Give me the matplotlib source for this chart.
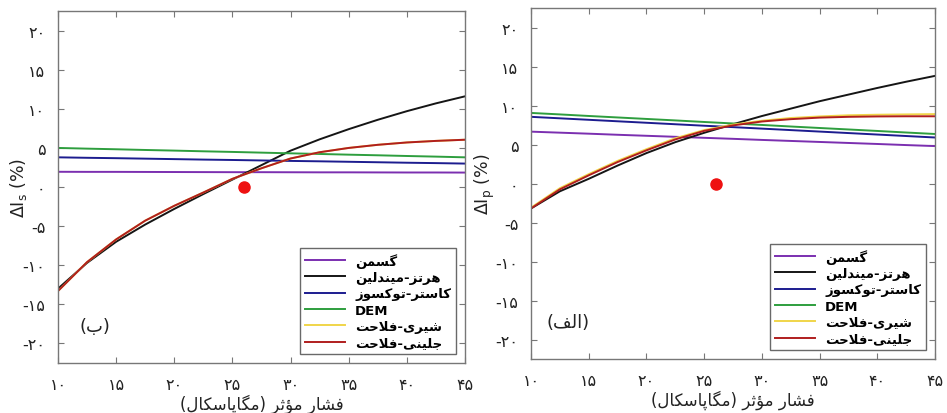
import numpy as np
import matplotlib
matplotlib.use("Agg")
import matplotlib.pyplot as plt

# effective pressure (MPa)
pressure = [10, 12.5, 15, 17.5, 20, 22.5, 25, 27.5, 30, 32.5, 35, 37.5, 40, 42.5, 45]

# panel (b): delta Is (%)
s_gassmann = [1.95, 1.94, 1.94, 1.93, 1.92, 1.91, 1.90, 1.90, 1.89, 1.88, 1.88, 1.87, 1.86, 1.86, 1.85]
s_hertz = [-13.0, -9.7, -7.0, -4.8, -2.8, -0.9, 0.95, 2.8, 4.65, 6.1, 7.4, 8.6, 9.7, 10.7, 11.6]
s_castagna = [3.80, 3.74, 3.69, 3.63, 3.57, 3.51, 3.46, 3.40, 3.34, 3.29, 3.23, 3.17, 3.11, 3.06, 3.00]
s_dem = [5.00, 4.91, 4.83, 4.74, 4.66, 4.57, 4.49, 4.40, 4.31, 4.23, 4.14, 4.06, 3.97, 3.89, 3.80]
s_shiri = [-13.3, -9.6, -6.7, -4.3, -2.4, -0.7, 1.05, 2.4, 3.65, 4.45, 5.0, 5.4, 5.7, 5.9, 6.05]
s_jalilini = [-13.3, -9.6, -6.7, -4.3, -2.4, -0.7, 1.05, 2.4, 3.65, 4.45, 5.0, 5.4, 5.7, 5.9, 6.05]

# panel (alef): delta Ip (%)
p_gassmann = [6.65, 6.52, 6.39, 6.25, 6.12, 5.99, 5.86, 5.73, 5.59, 5.46, 5.33, 5.20, 5.07, 4.93, 4.80]
p_hertz = [-3.2, -1.0, 0.6, 2.3, 3.9, 5.3, 6.5, 7.6, 8.65, 9.6, 10.55, 11.4, 12.25, 13.05, 13.8]
p_castagna = [8.55, 8.36, 8.17, 7.98, 7.79, 7.60, 7.41, 7.23, 7.04, 6.85, 6.66, 6.47, 6.28, 6.09, 5.90]
p_dem = [9.05, 8.86, 8.66, 8.47, 8.28, 8.09, 7.89, 7.70, 7.51, 7.31, 7.12, 6.93, 6.74, 6.54, 6.35]
p_shiri = [-3.1, -0.6, 1.2, 2.9, 4.4, 5.8, 6.85, 7.55, 8.05, 8.4, 8.6, 8.75, 8.82, 8.86, 8.9]
p_jalilini = [-3.2, -0.75, 1.05, 2.75, 4.25, 5.65, 6.75, 7.45, 7.95, 8.25, 8.45, 8.55, 8.6, 8.62, 8.62]

# measured point
point_x = 26
point_y = 0

names = ["گسمن", "هرتز-میندلین", "کاستر-توکسوز", "DEM", "شیری-فلاحت", "جلینی-فلاحت"]
colors = ["#7b2fb0", "#151515", "#1c1c8f", "#2e9e3e", "#f0d54a", "#b01e1e"]

xticks = [10, 15, 20, 25, 30, 35, 40, 45]
yticks = [-20, -15, -10, -5, 0, 5, 10, 15, 20]

# arabic presentation forms: isolated, final, initial, medial
FORMS = {
    "ا": (0xFE8D, 0xFE8E, None, None),
    "ب": (0xFE8F, 0xFE90, 0xFE91, 0xFE92),
    "پ": (0xFB56, 0xFB57, 0xFB58, 0xFB59),
    "ت": (0xFE95, 0xFE96, 0xFE97, 0xFE98),
    "ث": (0xFE99, 0xFE9A, 0xFE9B, 0xFE9C),
    "ج": (0xFE9D, 0xFE9E, 0xFE9F, 0xFEA0),
    "ح": (0xFEA1, 0xFEA2, 0xFEA3, 0xFEA4),
    "د": (0xFEA9, 0xFEAA, None, None),
    "ر": (0xFEAD, 0xFEAE, None, None),
    "ز": (0xFEAF, 0xFEB0, None, None),
    "س": (0xFEB1, 0xFEB2, 0xFEB3, 0xFEB4),
    "ش": (0xFEB5, 0xFEB6, 0xFEB7, 0xFEB8),
    "ف": (0xFED1, 0xFED2, 0xFED3, 0xFED4),
    "ک": (0xFB8E, 0xFB8F, 0xFB90, 0xFB91),
    "گ": (0xFB92, 0xFB93, 0xFB94, 0xFB95),
    "ل": (0xFEDD, 0xFEDE, 0xFEDF, 0xFEE0),
    "م": (0xFEE1, 0xFEE2, 0xFEE3, 0xFEE4),
    "ن": (0xFEE5, 0xFEE6, 0xFEE7, 0xFEE8),
    "ه": (0xFEE9, 0xFEEA, 0xFEEB, 0xFEEC),
    "و": (0xFEED, 0xFEEE, None, None),
    "ؤ": (0xFE85, 0xFE86, None, None),
    "ی": (0xFBFC, 0xFBFD, 0xFBFE, 0xFBFF),
}


def fa(text):
    """shape persian text and put it in visual (right to left) order"""
    res = []
    prev_dual = False
    i = 0
    while i < len(text):
        c = text[i]
        nxt = text[i + 1] if i + 1 < len(text) else ""
        if c == "ل" and nxt == "ا":
            res.append(chr(0xFEFC if prev_dual else 0xFEFB))
            prev_dual = False
            i += 2
            continue
        if c not in FORMS:
            res.append(c)
            prev_dual = False
            i += 1
            continue
        isol, fina, init, medi = FORMS[c]
        next_joins = init is not None and nxt in FORMS
        if prev_dual and next_joins:
            g = medi
        elif prev_dual:
            g = fina
        elif next_joins:
            g = init
        else:
            g = isol
        res.append(chr(g))
        prev_dual = init is not None
        i += 1
    mirror = {"(": ")", ")": "("}
    return "".join(mirror.get(ch, ch) for ch in reversed(res))


def fa_num(v):
    return str(int(v)).translate(str.maketrans("0123456789", "۰۱۲۳۴۵۶۷۸۹"))


def draw_panel(ax, series, ylabel, tag, ylab_x):
    for vals, name, color in zip(series, names, colors):
        label = name if name == "DEM" else fa(name)
        ax.plot(pressure, vals, color=color, lw=1.4, label=label)
    ax.plot(point_x, point_y, "o", color="#ee1111", ms=8, zorder=5)

    ax.set_xlim(10, 45)
    ax.set_ylim(-22.5, 22.5)
    ax.set_xticks(xticks)
    ax.set_yticks(yticks)
    ax.set_xticklabels([fa_num(v) for v in xticks])
    ax.set_yticklabels([fa_num(v) for v in yticks])
    ax.tick_params(direction="in", length=4, top=True, right=True,
                   colors="#777777", labelcolor="#222222", labelsize=11.5)
    ax.tick_params(axis="x", pad=10)
    ax.tick_params(axis="y", pad=9)
    for sp in ax.spines.values():
        sp.set_color("#777777")
        sp.set_linewidth(1.0)

    ax.set_xlabel(fa("فشار مؤثر (مگاپاسکال)"), fontsize=12, color="#222222", labelpad=1)
    ax.set_ylabel(ylabel, fontsize=12.5, color="#222222")
    ax.yaxis.set_label_coords(ylab_x, 0.5)
    ax.text(13.2, -17.8, fa(tag), fontsize=13, color="#222222", ha="center", va="center")

    leg = ax.legend(loc="lower right", frameon=True, fancybox=False,
                    handlelength=3.0, borderaxespad=0.7, labelspacing=0.25,
                    borderpad=0.35, prop={"weight": "bold", "size": 9.5})
    leg.get_frame().set_edgecolor("#444444")
    leg.get_frame().set_linewidth(1.0)


fig = plt.figure(figsize=(9.47, 4.14), dpi=100)
ax_b = fig.add_axes([0.0612, 0.1208, 0.4298, 0.850])
ax_a = fig.add_axes([0.5607, 0.1304, 0.4266, 0.8478])

draw_panel(ax_b, [s_gassmann, s_hertz, s_castagna, s_dem, s_shiri, s_jalilini],
           r"$\Delta \mathrm{I_s}$ (%)", "(ب)", -0.071)
draw_panel(ax_a, [p_gassmann, p_hertz, p_castagna, p_dem, p_shiri, p_jalilini],
           r"$\Delta \mathrm{I_p}$ (%)", "(الف)", -0.084)

fig.savefig("out.png", dpi=100)
